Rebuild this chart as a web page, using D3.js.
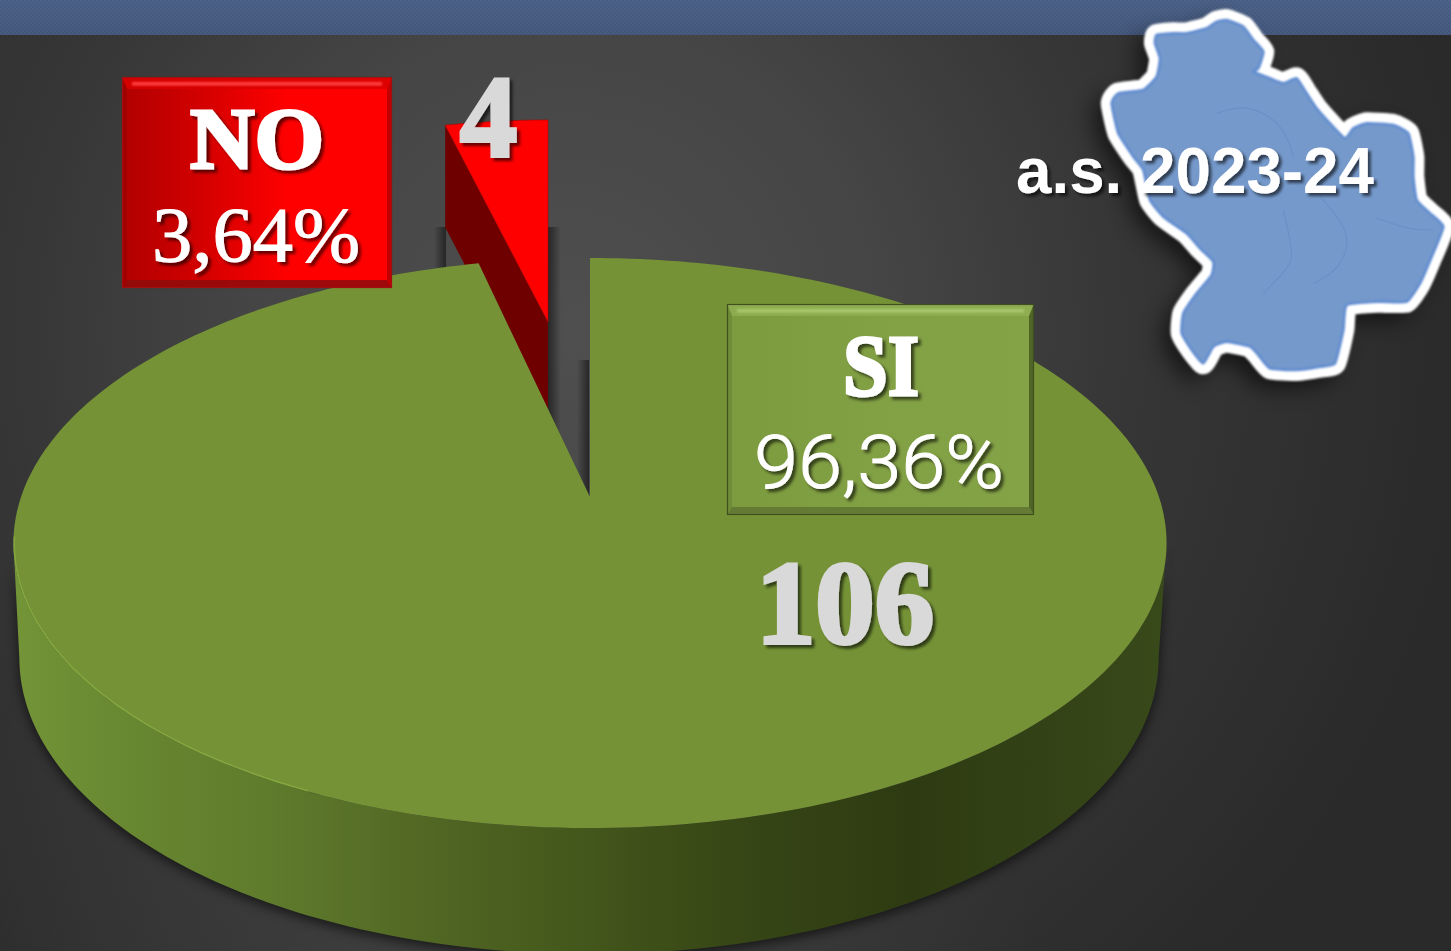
<!DOCTYPE html>
<html><head><meta charset="utf-8">
<script src="https://cdn.jsdelivr.net/npm/d3@7/dist/d3.min.js"></script>
<style>html,body{margin:0;padding:0;background:#2c2c2c;overflow:hidden}svg{display:block}</style>
</head><body><svg id="c" width="1451" height="951"></svg>
<script>
// ---- chart data ----
const categories = ["SI", "NO"];
const values = [106, 4];
const percentLabels = ["96,36%", "3,64%"];
const valueLabels = ["106", "4"];
const yearLabel = "a.s. 2023-24";

const W = 1451, H = 951;
const svg = d3.select("#c");
const defs = svg.append("defs");

function linGrad(id, stops, x1=0, y1=0, x2=1, y2=0, abs=false){
  const g = defs.append("linearGradient").attr("id", id)
    .attr("x1",x1).attr("y1",y1).attr("x2",x2).attr("y2",y2);
  if(abs) g.attr("gradientUnits","userSpaceOnUse");
  stops.forEach(s=>g.append("stop").attr("offset",s[0]).attr("stop-color",s[1]).attr("stop-opacity",s[2]===undefined?1:s[2]));
}
function radGrad(id, cx, cy, r, stops){
  const g = defs.append("radialGradient").attr("id", id).attr("gradientUnits","userSpaceOnUse")
    .attr("cx",cx).attr("cy",cy).attr("r",r);
  stops.forEach(s=>g.append("stop").attr("offset",s[0]).attr("stop-color",s[1]).attr("stop-opacity",s[2]===undefined?1:s[2]));
}
function blurF(id, sd){
  defs.append("filter").attr("id",id).attr("x","-30%").attr("y","-30%").attr("width","160%").attr("height","160%")
    .append("feGaussianBlur").attr("stdDeviation",sd);
}
function textShadow(id, dx, dy, sd, op){
  defs.append("filter").attr("id",id).attr("x","-20%").attr("y","-20%").attr("width","150%").attr("height","150%")
    .append("feDropShadow").attr("dx",dx).attr("dy",dy).attr("stdDeviation",sd)
    .attr("flood-color","#000").attr("flood-opacity",op);
}
blurF("b3",3); blurF("b6",6); blurF("b10",11); blurF("b1",1.2); blurF("b2",1.8);
textShadow("ts",3,3,1.6,.6);
radGrad("bg", 570, 330, 900, [[0,"#4f4f4f"],[.35,"#454545"],[.62,"#363636"],[1,"#2a2a2a"]]);
radGrad("bgBottom", 480, 1010, 560, [[0,"#4a4a4a",.55],[1,"#4a4a4a",0]]);
linGrad("sideG", [[0,"#739437"],[.1,"#688731"],[.22,"#5f7b2c"],[.35,"#526824"],[.5,"#43561b"],[.62,"#374716"],[.78,"#2e3b12"],[1,"#38491a"]], 15,0,1165,0,true);
linGrad("redBox", [[0,"#b00000"],[.3,"#d40000"],[.62,"#ff0000"],[1,"#ff0000"]]);
linGrad("greenBox", [[0,"#7c9b3e"],[.5,"#82a044"],[1,"#84a246"]]);
linGrad("shR", [[0,"#000",.5],[1,"#000",0]]);
linGrad("shL", [[0,"#000",0],[1,"#000",.5]]);
linGrad("banner", [[0,"#475d84"],[1,"#415579"]],0,0,0,1);
const pat = defs.append("pattern").attr("id","weave").attr("width",4).attr("height",4).attr("patternUnits","userSpaceOnUse");
pat.append("rect").attr("width",2).attr("height",2).attr("fill","#fff").attr("opacity",.035);
pat.append("rect").attr("x",2).attr("y",2).attr("width",2).attr("height",2).attr("fill","#fff").attr("opacity",.035);

// background
svg.append("rect").attr("width",W).attr("height",H).attr("fill","url(#bg)");
svg.append("rect").attr("width",W).attr("height",H).attr("fill","url(#bgBottom)");
svg.append("rect").attr("width",W).attr("height",35).attr("fill","url(#banner)");
svg.append("rect").attr("width",W).attr("height",35).attr("fill","url(#weave)");

// ---- pie geometry driven by d3.pie ----
const pie = d3.pie().sort(null).startAngle(0).endAngle(2*Math.PI);
const arcs = pie(values);
const siArc = arcs[0], noArc = arcs[1];

// perspective projection of the unit disc on the slide
const k = 0.1614, cx = 590, cy = 497, A = 277.6, B = 569;
const project = (u,v)=>{ const w = 1 + k*v; return [cx + B*u/w, cy - A*v/w]; };
const topRim = a => project(Math.sin(a), Math.cos(a));
const lowRim = a => { const p = topRim(a); return [589 + (p[0]-590)*0.988, 658 + (p[1]-543)*1.0386]; };
const line = d3.line();
const sweep = (a0,a1,n=160)=>d3.range(n+1).map(i=>a0+(a1-a0)*i/n);

// exploded slice uses its own linear scales
const xNo = d3.scaleLinear().domain([0,-1]).range([548,94]);
const yNo = d3.scaleLinear().domain([0,1]).range([322,120]);
const noDepth = 102;
const noPt = a=>[xNo(Math.sin(a)), yNo(Math.cos(a))];
const noRim = sweep(noArc.startAngle, noArc.endAngle, 20);
const noTop = [[xNo(0),yNo(0)]].concat(noRim.map(noPt));

// shadows behind the slices
const sh = svg.append("g");
sh.append("rect").attr("x",548).attr("y",227).attr("width",13).attr("height",240).attr("fill","url(#shR)");
sh.append("rect").attr("x",434).attr("y",227).attr("width",12).attr("height",60).attr("fill","url(#shL)");
sh.append("rect").attr("x",577).attr("y",360).attr("width",12).attr("height",140).attr("fill","url(#shL)");

// NO slice: cut face then top
const cutA = noPt(noArc.startAngle);
const apex = [xNo(0),yNo(0)];
svg.append("path").attr("fill","#6e0000")
  .attr("d", line([noPt(noArc.startAngle), apex, [apex[0],apex[1]+noDepth], [cutA[0],cutA[1]+noDepth]])+"Z");
svg.append("path").attr("fill","#ff0000").attr("stroke","#b00000").attr("stroke-width",.6)
  .attr("d", line(noTop)+"Z");

// SI slice: drop shadow, side wall, top
const extreme = Math.acos(-k);
const wallA = sweep(extreme, 2*Math.PI-extreme);
const wall = wallA.map(topRim).concat(wallA.slice().reverse().map(lowRim));
const rimPts = sweep(siArc.startAngle, siArc.endAngle, 300);
svg.append("path").attr("d", line(wall)+"Z").attr("transform","translate(0,4)")
  .attr("fill","#000").attr("opacity",.6).attr("filter","url(#b6)");
svg.append("path").attr("d", line(wall)+"Z").attr("fill","url(#sideG)");
const siTop = [[cx,cy]].concat(rimPts.map(topRim));
svg.append("path").attr("d", line(siTop)+"Z").attr("fill","#759336");
// lighter rim of the top face, kept inside the face
defs.append("clipPath").attr("id","faceClip").append("path").attr("d", line(siTop)+"Z");
svg.append("path").attr("d", line(sweep(Math.PI*205/180,Math.PI*262/180,80).map(topRim)))
  .attr("fill","none").attr("stroke","#8aac42").attr("stroke-width",3).attr("opacity",.8)
  .attr("clip-path","url(#faceClip)");

// ---- region map ----
const outline = [[470,105],[520,100],[560,100],[620,85],[650,65],[680,60],[730,80],[760,120],[790,155],[775,205],[760,215],[810,235],[850,250],[890,235],[920,280],[950,325],[990,370],[1035,415],[1060,385],[1100,370],[1180,375],[1225,400],[1240,470],[1240,530],[1250,600],[1290,640],[1330,680],[1295,770],[1260,850],[1220,905],[1140,905],[1040,915],[1030,990],[1005,1090],[960,1100],[890,1110],[810,1105],[775,1065],[750,1040],[680,1025],[640,1040],[610,1090],[575,1050],[545,1000],[550,940],[590,880],[635,825],[640,785],[600,745],[560,700],[490,650],[450,600],[430,510],[400,470],[355,400],[335,310],[355,280],[430,270],[470,230],[480,175],[465,130]];
const mapPt = p=>[1000+p[0]/3, p[1]/3];
const mapLine = d3.line().curve(d3.curveCardinalClosed.tension(.55));
const mapD = mapLine(outline.map(mapPt));
const mg = svg.append("g");
mg.append("path").attr("d",mapD).attr("fill","#000").attr("opacity",.6).attr("filter","url(#b10)")
  .attr("transform","translate(-10,10)").attr("stroke","#000").attr("stroke-width",16);
mg.append("path").attr("d",mapD).attr("fill","#fff").attr("stroke","#fff").attr("stroke-width",22)
  .attr("stroke-linejoin","round").attr("filter","url(#b1)");
mg.append("path").attr("d",mapD).attr("fill","#7599cb").attr("stroke","#5f8bd0").attr("stroke-width",2.6)
  .attr("stroke-linejoin","round").attr("filter","url(#b1)");
[[[650,340],[740,310],[850,370],[880,470]],[[850,630],[880,760],[870,800],[790,880]],[[1130,655],[1230,690],[1300,690]],[[960,590],[1060,700],[1020,810],[940,850]]]
 .forEach(s=>mg.append("path").attr("d",d3.line().curve(d3.curveBasis)(s.map(mapPt)))
   .attr("fill","none").attr("stroke","#6488bf").attr("stroke-width",1.2).attr("opacity",.55));

// ---- label boxes ----
function bevelBox(x,y,w,h,o){
  const g = svg.append("g");
  const bt = 12, bs = 5, bb = 8;
  g.append("rect").attr("x",x).attr("y",y).attr("width",w).attr("height",h).attr("fill",o.fill);
  const poly=(pts,f,op=1)=>g.append("path").attr("d",line(pts)+"Z").attr("fill",f).attr("opacity",op);
  poly([[x,y],[x+w,y],[x+w-bs,y+bt],[x+bs,y+bt]],o.top,.85);
  poly([[x,y+h],[x+w,y+h],[x+w-bs,y+h-bb],[x+bs,y+h-bb]],o.bottom,.85);
  poly([[x,y],[x+bs,y+bt],[x+bs,y+h-bb],[x,y+h]],o.left);
  poly([[x+w,y],[x+w-bs,y+bt],[x+w-bs,y+h-bb],[x+w,y+h]],o.right);
  g.append("rect").attr("x",x+10).attr("y",y+5).attr("width",w-20).attr("height",3.5).attr("fill",o.shine).attr("filter","url(#b1)");
  g.append("rect").attr("x",x+.5).attr("y",y+.5).attr("width",w-1).attr("height",h-1).attr("fill","none").attr("stroke",o.edge).attr("stroke-width",1.2);
}
bevelBox(122,77,270,211,{fill:"url(#redBox)",top:"#d80000",bottom:"#8e0a0a",left:"#a00000",right:"#c00000",shine:"#ff4040",edge:"#a01010"});
bevelBox(727,304,307,211,{fill:"url(#greenBox)",top:"#8fae52",bottom:"#5f7434",left:"#6f8c38",right:"#506426",shine:"#a9c86c",edge:"#3f4f22"});

// ---- text ----
function label(str,x,y,size,opts={}){
  const t = svg.append("text").text(str).attr("x",x).attr("y",y)
    .attr("font-size",size)
    .attr("font-family",opts.family||"'Liberation Serif'")
    .attr("font-weight",opts.weight||700)
    .attr("fill",opts.fill||"#fff")
    .attr("stroke",opts.fill||"#fff")
    .attr("stroke-width",opts.sw===undefined?3:opts.sw)
    .attr("stroke-linejoin","miter")
    .attr("filter","url(#ts)");
  if(opts.len) t.attr("textLength",opts.len).attr("lengthAdjust","spacingAndGlyphs");
  return t;
}
label(categories[1],190,168,86,{len:134});
label(percentLabels[1],152,261,78,{weight:400,sw:1,len:208});
label(valueLabels[1],460,156,116,{fill:"#d9d9d9",len:57,sw:4});
label(categories[0],843,395,86,{len:76});
label(percentLabels[0],754,488,74,{family:"Roboto",weight:300,sw:1,len:250});
label(valueLabels[0],756,643,118,{fill:"#d9d9d9",len:178,sw:4});
label(yearLabel,1016,193,65,{family:"'Liberation Sans'",sw:0,len:358});
</script></body></html>
